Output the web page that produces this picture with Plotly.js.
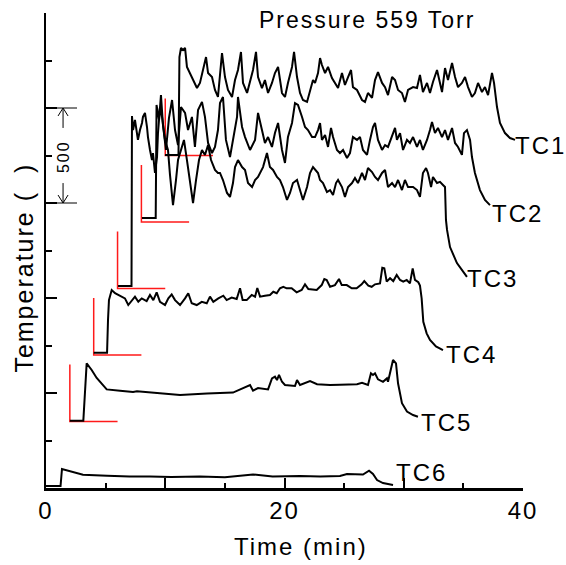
<!DOCTYPE html>
<html>
<head>
<meta charset="utf-8">
<script src="https://cdn.plot.ly/plotly-3.0.1.min.js"></script>
<style>
  html, body { margin: 0; padding: 0; background: #fff; }
  #chart { width: 566px; height: 565px; }
  #chart text { letter-spacing: 2px !important; }
</style>
</head>
<body>
<div id="chart"></div>
<script>
// ---- Data (time in min, temperature with per-channel display offset) ----
const seriesNames = ["TC1", "TC2", "TC3", "TC4", "TC5", "TC6"];

const tc1Time = [9.98,11.11,11.19,11.32,11.49,11.66,11.82,12.08,12.33,12.66,12.91,13.17,13.42,13.59,13.92,14.17,14.42,14.76,15.01,15.26,15.60,15.85,16.10,16.35,16.52,16.86,17.11,17.36,17.61,17.78,18.11,18.36,18.62,18.95,19.20,19.46,19.79,20.04,20.29,20.63,20.80,21.05,21.30,21.55,21.89,22.14,22.39,22.56,22.81,22.98,23.14,23.40,23.65,23.98,24.23,24.49,24.82,25.07,25.33,25.58,25.74,26.08,26.50,26.75,27.00,27.34,27.59,27.84,28.18,28.43,28.68,29.02,29.27,29.52,29.85,30.10,30.36,30.78,31.11,31.36,31.61,31.95,32.20,32.45,32.79,33.04,33.21,33.46,33.71,34.05,34.30,34.55,34.88,35.14,35.39,35.72,35.97,36.23,36.56,36.81,37.07,37.40,37.57,37.82,38.07,38.49,38.91,39.33];
const tc1Temp = [1753,1753,2268,2316,2305,2316,2216,2184,2147,2105,2132,2200,2268,2184,2163,2095,2058,2289,2163,2095,2058,2147,2200,2295,2132,2079,2147,2200,2295,2163,2105,2147,2079,2132,2184,2216,2079,2058,2132,2216,2295,2163,2079,2042,2032,2095,2147,2132,2184,2263,2226,2184,2216,2158,2132,2105,2184,2121,2163,2200,2110,2095,2042,2032,2079,2053,2147,2189,2132,2110,2068,2163,2147,2095,2079,2032,2095,2110,2105,2174,2084,2132,2079,2137,2200,2132,2084,2210,2147,2237,2163,2110,2132,2163,2110,2058,2079,2132,2084,2110,2068,2184,2132,2005,1921,1868,1842,1832];

const tc2Time = [8.05,9.20,9.27,9.48,9.64,9.81,10.06,10.31,10.57,10.82,11.07,11.32,11.66,11.91,12.24,12.49,12.75,13.08,13.33,13.59,13.92,14.17,14.42,14.59,14.84,15.09,15.43,15.68,16.02,16.10,16.44,16.69,17.11,17.53,17.78,18.11,18.36,18.62,18.95,19.20,19.46,19.79,20.04,20.29,20.63,20.88,21.13,21.47,21.72,21.97,22.31,22.56,22.81,22.98,23.14,23.40,23.65,23.90,24.07,24.40,24.65,24.91,25.24,25.49,25.74,26.08,26.33,26.58,26.92,27.17,27.42,27.59,27.84,28.18,28.43,28.68,29.02,29.27,29.43,29.69,29.94,30.27,30.52,30.78,31.11,31.36,31.61,31.95,32.20,32.37,32.62,32.87,33.21,33.46,33.71,34.05,34.30,34.55,34.88,35.05,35.30,35.56,35.72,35.97,36.39,36.81,37.23];
const tc2Temp = [1421,1421,2016,1937,2068,1910,1779,1947,2042,1884,1805,2005,1974,1884,1953,1795,1989,2032,1953,1816,1763,1795,1884,2026,2058,1832,1742,1832,1953,2058,1900,1847,1779,1832,1974,1884,1816,1847,1795,1868,1921,1779,1711,1847,1921,2026,2016,1953,1900,1884,1847,1847,1884,1921,1832,1858,1795,1895,1847,1779,1763,1779,1737,1763,1847,1832,1847,1779,1753,1832,1900,1921,1832,1779,1805,1795,1858,1895,1832,1868,1779,1832,1816,1847,1795,1832,1779,1832,1884,1926,1868,1895,1847,1884,1832,1895,1816,1795,1753,1868,1884,1832,1742,1658,1568,1516,1489];

const tc3Time = [6.04,7.17,7.21,7.30,7.46,7.63,7.71,7.88,8.05,8.13,8.30,8.47,8.55,8.72,8.89,8.97,9.14,9.31,9.39,9.56,9.73,9.98,10.23,10.40,10.65,10.90,11.07,11.32,11.57,11.82,12.08,12.33,12.58,12.83,13.08,13.33,13.59,13.84,14.17,14.42,14.59,14.84,15.18,15.43,15.68,15.85,16.10,16.44,16.69,16.94,17.28,17.53,17.78,18.20,18.53,18.78,19.04,19.37,19.62,19.87,20.21,20.46,20.71,21.05,21.30,21.55,21.89,22.14,22.39,22.81,22.98,23.23,23.56,23.82,24.07,24.32,24.49,24.82,25.07,25.33,25.66,25.91,26.16,26.50,26.75,27.00,27.34,27.59,27.84,28.18,28.43,28.68,29.02,29.27,29.52,29.85,30.10,30.36,30.78,31.11,31.36,31.61,31.87,32.03,32.29,32.45,32.79,33.04,33.29,33.46,33.54,33.63,33.88,34.46,35.30];
const tc3Temp = [1063,1063,1958,1884,1937,1868,1832,1884,1921,1953,1974,1900,1847,1779,1726,1763,1658,1742,1868,2005,1953,1832,1779,1647,1489,1621,1726,1779,1832,1726,1595,1500,1621,1726,1779,1753,1805,1726,1674,1658,1658,1621,1553,1532,1605,1689,1726,1689,1674,1605,1584,1621,1637,1689,1763,1689,1674,1637,1621,1584,1516,1553,1605,1621,1568,1516,1584,1658,1689,1658,1621,1605,1558,1568,1542,1605,1621,1584,1532,1584,1605,1632,1605,1658,1621,1684,1663,1637,1621,1658,1674,1584,1605,1584,1621,1568,1621,1584,1584,1568,1532,1658,1684,1658,1584,1637,1605,1611,1595,1584,1411,1358,1268,1184,1111];

const tc4Time = [4.00,5.12,5.20,5.28,5.51,5.79,6.06,6.35,6.62,6.90,7.19,7.46,7.74,8.03,8.44,8.72,9.00,9.28,9.56,9.98,10.26,10.54,10.82,11.24,11.66,11.93,12.22,12.64,13.06,13.48,13.75,14.03,14.45,14.87,15.15,15.57,15.99,16.27,16.49,16.83,17.25,17.53,17.72,17.95,18.36,18.78,19.06,19.35,19.62,19.90,20.18,20.60,21.02,21.44,21.72,22.00,22.70,23.12,23.34,23.54,23.82,24.23,24.57,24.80,25.22,25.64,26.05,26.47,26.69,27.03,27.31,27.59,28.01,28.20,28.37,28.57,28.85,29.12,29.41,29.69,29.96,30.25,30.52,30.75,30.94,31.22,31.36,31.50,31.64,31.92,32.20,32.70,33.29];
const tc4Temp = [712,712,884,989,1042,1025,1016,1007,998,963,989,1007,980,998,984,1016,989,1030,980,963,998,1019,989,963,998,1025,972,963,980,972,1007,980,998,1012,989,1002,995,1051,989,989,1016,1007,1053,1007,1012,1016,1033,1025,1051,1059,1051,1051,1030,1042,1072,1047,1042,1068,1100,1095,1059,1068,1100,1068,1068,1051,1051,1072,1089,1065,1059,1072,1077,1159,1156,1086,1104,1089,1121,1095,1086,1095,1077,1156,1095,1083,1065,998,875,814,779,745,726];

const tc5Time = [2.00,3.13,3.41,3.83,4.25,4.78,5.09,6.21,7.30,7.63,9.31,11.24,13.50,15.68,17.11,17.36,17.78,18.62,18.95,19.20,19.37,19.54,19.79,20.04,20.88,21.05,21.30,22.14,22.73,23.82,24.65,26.08,26.50,27.00,27.25,27.42,27.59,27.84,28.26,28.59,28.68,28.93,29.10,29.35,29.52,29.85,30.27,30.78,31.19];
const tc5Temp = [354,354,656,621,579,542,519,512,505,509,498,489,498,502,542,512,526,519,577,586,568,595,559,542,537,568,542,563,546,542,544,546,554,542,604,595,604,572,559,577,559,638,674,656,551,446,402,384,375];

const tc6Time = [0.00,1.22,1.34,2.01,3.10,5.12,7.00,8.72,10.50,12.90,15.00,17.36,19.00,21.30,23.00,24.65,25.24,26.58,27.09,27.42,27.76,28.26,29.10];
const tc6Temp = [10,10,100,89,70,65,60,60,58,60,57,71,60,63,60,63,74,71,91,74,42,26,16];

// red reference brackets (start time, base level) for TC5..TC1
const refStart = [2, 4, 6, 8, 10];
const refBase = [350, 700, 1050, 1400, 1750];
const refHeight = 300;   // temperature scale of bracket
const refWidth = 4;      // minutes

// label anchor positions (time, level) for TC1..TC6
const labelTime = [39.41, 37.48, 35.39, 33.63, 31.53, 29.43];
const labelLevel = [1805, 1445, 1105, 705, 347, 79];

// scale bar: 500 degrees between these levels
const scaleLow = 1500, scaleHigh = 2000;

const xTicks = [0, 10, 20, 30, 40];
const xTickText = ["0", "", "20", "", "40"];
const yTicks = [0, 500, 1000, 1500, 2000, 2500];

// ---- Build traces ----
const times = [tc1Time, tc2Time, tc3Time, tc4Time, tc5Time, tc6Time];
const temps = [tc1Temp, tc2Temp, tc3Temp, tc4Temp, tc5Temp, tc6Temp];
const traces = [];
for (let i = 0; i < refStart.length; i++) {
  traces.push({
    x: [refStart[i], refStart[i], refStart[i] + refWidth],
    y: [refBase[i] + refHeight, refBase[i], refBase[i]],
    mode: "lines", type: "scatter", showlegend: false, hoverinfo: "skip",
    line: { color: "#ff1a1a", width: 1.5 }
  });
}
for (let i = 0; i < seriesNames.length; i++) {
  traces.push({
    x: times[i], y: temps[i], name: seriesNames[i],
    mode: "lines", type: "scatter", showlegend: false,
    line: { color: "#000", width: 2 }
  });
}

const FONT = "Liberation Sans, Arial, sans-serif";
const annotations = seriesNames.map((n, i) => ({
  x: labelTime[i], y: labelLevel[i], xref: "x", yref: "y",
  text: n, showarrow: false, xanchor: "left", yanchor: "middle",
  font: { family: FONT, size: 24, color: "#000" }
}));
annotations.push({
  x: 0.675, y: 0.985, xref: "paper", yref: "paper", text: "Pressure 559 Torr",
  showarrow: false, xanchor: "center", yanchor: "middle",
  font: { family: FONT, size: 23, color: "#000" }
});
annotations.push({
  x: 0.534, y: -0.124, xref: "paper", yref: "paper", text: "Time (min)",
  showarrow: false, xanchor: "center", yanchor: "middle",
  font: { family: FONT, size: 24, color: "#000" }
});
annotations.push({
  x: -0.045, y: 0.463, xref: "paper", yref: "paper", text: "Temperature (  )",
  showarrow: false, xanchor: "center", yanchor: "middle", textangle: -90,
  font: { family: FONT, size: 25, color: "#000" }
});
const barX = 1.43;
annotations.push({
  x: barX, y: (scaleLow + scaleHigh) / 2 - 8, xref: "x", yref: "y", text: "500",
  showarrow: false, textangle: -90, xanchor: "center", yanchor: "middle",
  font: { family: FONT, size: 16, color: "#000" }
});

const lineStyle = { color: "#000", width: 1 };
const shapes = [
  { type: "line", xref: "x", yref: "y", x0: 0, x1: 2.6, y0: scaleHigh, y1: scaleHigh, line: lineStyle },
  { type: "line", xref: "x", yref: "y", x0: 0, x1: 2.6, y0: scaleLow, y1: scaleLow, line: lineStyle },
  { type: "line", xref: "x", yref: "y", x0: barX, x1: barX, y0: scaleHigh, y1: scaleHigh - 105, line: lineStyle },
  { type: "line", xref: "x", yref: "y", x0: barX, x1: barX, y0: scaleLow, y1: scaleLow + 105, line: lineStyle },
  { type: "path", xref: "x", yref: "y",
    path: `M ${barX - 0.42} ${scaleHigh - 42} L ${barX} ${scaleHigh} L ${barX + 0.42} ${scaleHigh - 42}`, line: lineStyle },
  { type: "path", xref: "x", yref: "y",
    path: `M ${barX - 0.42} ${scaleLow + 42} L ${barX} ${scaleLow} L ${barX + 0.42} ${scaleLow + 42}`, line: lineStyle }
];

const layout = {
  width: 566, height: 565,
  margin: { l: 46, r: 43, t: 13, b: 77 },
  paper_bgcolor: "#fff", plot_bgcolor: "#fff",
  showlegend: false, hovermode: false,
  font: { family: FONT, size: 24, color: "#000" },
  xaxis: {
    range: [0, 40], showgrid: false, zeroline: false,
    showline: true, linecolor: "#000", linewidth: 2.5,
    ticks: "inside", ticklen: 10, tickwidth: 2, tickcolor: "#000",
    tickmode: "array", tickvals: xTicks, ticktext: xTickText,
    minor: { ticks: "inside", dtick: 5, ticklen: 5, tickwidth: 2, tickcolor: "#000", showgrid: false },
    tickfont: { family: FONT, size: 24, color: "#000" }
  },
  yaxis: {
    range: [0, 2500], showgrid: false, zeroline: false,
    showline: true, linecolor: "#000", linewidth: 2,
    ticks: "inside", ticklen: 11, tickwidth: 2, tickcolor: "#000",
    tickmode: "array", tickvals: yTicks, showticklabels: false,
    minor: { ticks: "inside", dtick: 250, ticklen: 6, tickwidth: 2, tickcolor: "#000", showgrid: false }
  },
  annotations: annotations,
  shapes: shapes
};

Plotly.newPlot("chart", traces, layout, { displayModeBar: false, staticPlot: true });
</script>
</body>
</html>
